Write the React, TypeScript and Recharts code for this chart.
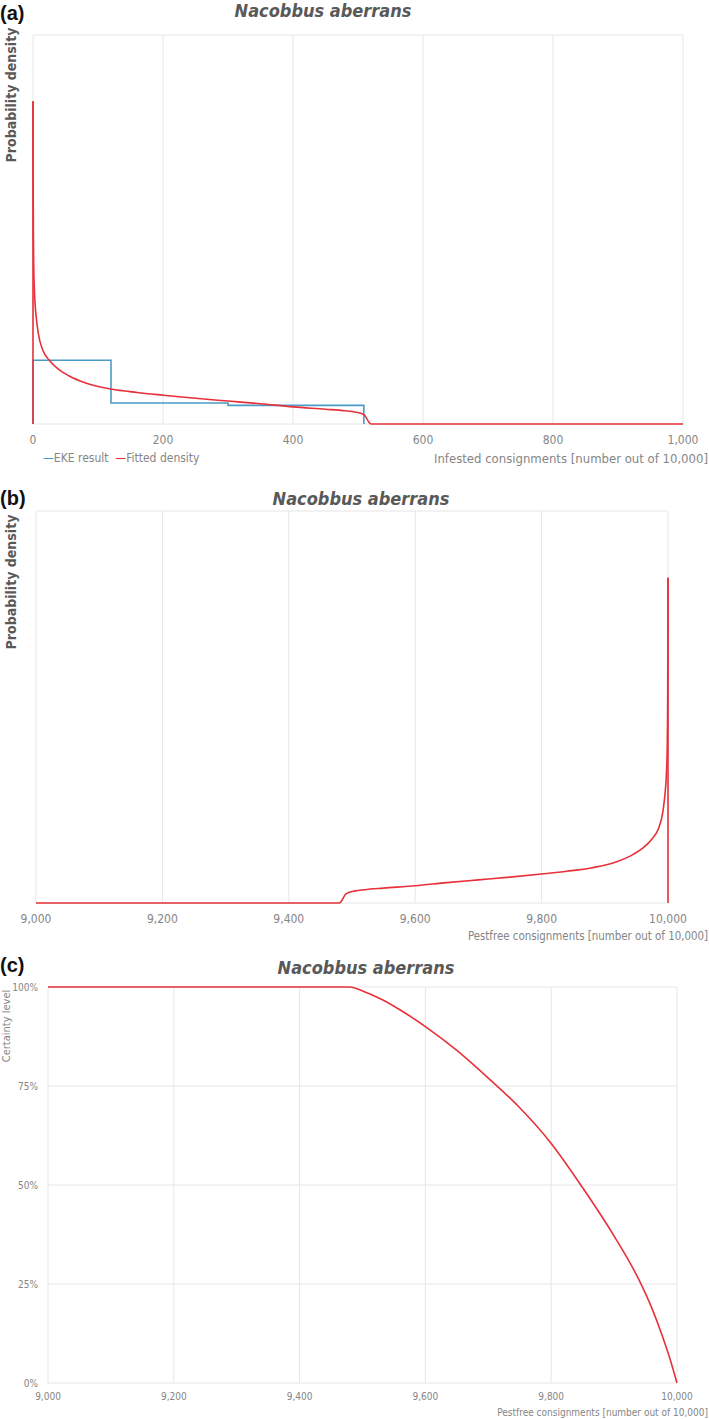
import { CartesianGrid, Line, LineChart, XAxis, YAxis } from "recharts";
import type { CSSProperties } from "react";

const infestedTicks = [0, 200, 400, 600, 800, 1000];
const pestfreeTicks = [9000, 9200, 9400, 9600, 9800, 10000];
const densityTicks = [0, 1, 2, 3, 4, 5];
const certaintyTicks = [0, 25, 50, 75, 100];

// EKE result histogram: bin edges (infested) and bar heights
const ekeEdges = [0, 120, 300, 509];
const ekeHeights = [0.82, 0.27, 0.24];

// fitted density; spike at 0 drawn separately
const fittedInfested = [0, 0.3, 0.7, 1.2, 2, 3, 5, 8, 15, 25, 40, 55, 80, 120, 160, 200, 250, 300, 350, 400, 450, 480, 495, 509, 520, 1000];
const fittedDensity = [4.15, 3.0, 2.35, 2.0, 1.75, 1.57, 1.37, 1.17, 0.95, 0.82, 0.7, 0.62, 0.53, 0.45, 0.405, 0.37, 0.33, 0.295, 0.26, 0.22, 0.19, 0.17, 0.155, 0.12, 0, 0];

// certainty curve, panel (c)
const certPestfree = [9000, 9480, 9500, 9530, 9560, 9600, 9650, 9700, 9750, 9800, 9850, 9900, 9940, 9960, 9976, 9990, 10000];
const certLevel = [100, 100, 99, 96.9, 94.2, 90, 84, 77, 69.5, 60.5, 49.3, 37.1, 25.9, 18.9, 12.2, 5.5, 0];

const BLUE = "#4a9cc8";
const RED = "#e8303a";
const GRID = "#e6e6e6";
const TICK = "#858585";
const DARK = "#595959";
const NARROW = "'Liberation Sans Narrow', 'DejaVu Sans Condensed', 'Open Sans', sans-serif";

const ekeData = [{ x: ekeEdges[0], y: 0 }];
ekeHeights.forEach((h, i) => {
  ekeData.push({ x: ekeEdges[i], y: h });
  ekeData.push({ x: ekeEdges[i + 1], y: h });
});
ekeData.push({ x: ekeEdges[ekeEdges.length - 1], y: 0 });

const fittedA = fittedInfested.map((x, i) => ({ x, y: fittedDensity[i] }));
const spikeA = [{ x: fittedInfested[0], y: 0 }, fittedA[0]];
const fittedB = fittedA.map((p) => ({ x: 10000 - p.x, y: p.y })).reverse();
const spikeB = spikeA.map((p) => ({ x: 10000 - p.x, y: p.y }));
const certData = certPestfree.map((x, i) => ({ x, y: certLevel[i] }));

const fmt = (v: number) => v.toLocaleString("en-US");

const abs = (style: CSSProperties): CSSProperties => ({ position: "absolute", whiteSpace: "nowrap", ...style });

const panelTag = (top: number): CSSProperties =>
  abs({ left: 0, top, fontFamily: "'Liberation Sans', Arial, sans-serif", fontWeight: 700, fontSize: 20, color: "#111", lineHeight: "20px" });

const titleStyle = (cx: number, cy: number): CSSProperties =>
  abs({ left: cx, top: cy, transform: "translate(-50%, -50%)", fontFamily: NARROW, fontWeight: 700, fontStyle: "italic", fontSize: 18, color: DARK });

const yTitle = (cx: number, cy: number, bold: boolean, size: number, color: string): CSSProperties =>
  abs({ left: cx, top: cy, transform: "translate(-50%, -50%) rotate(-90deg)", fontFamily: NARROW, fontWeight: bold ? 700 : 400, fontSize: size, color });

const xTitle = (cy: number, size: number): CSSProperties =>
  abs({ right: 1, top: cy, transform: "translateY(-50%)", fontFamily: NARROW, fontSize: size, color: TICK });

export default function App() {
  const tick = { fill: TICK, fontSize: 12, fontFamily: NARROW };
  return (
    <div style={{ position: "absolute", left: 0, top: 0, width: 709, height: 1419, background: "#fff", overflow: "hidden" }}>
      {/* (a) */}
      <div style={abs({ left: 0, top: 0 })}>
        <LineChart width={709} height={470} margin={{ top: 35, right: 26, left: 33, bottom: 22 }}>
          <CartesianGrid stroke={GRID} />
          <XAxis
            type="number"
            dataKey="x"
            domain={[0, 1000]}
            ticks={infestedTicks}
            tickFormatter={fmt}
            axisLine={false}
            tickLine={false}
            tickMargin={5}
            height={24}
            tick={tick}
            interval={0}
          />
          <YAxis type="number" domain={[0, 5]} ticks={densityTicks} width={0} tick={false} axisLine={false} tickLine={false} />
          <Line data={ekeData} dataKey="y" type="linear" stroke={BLUE} strokeWidth={1.6} dot={false} isAnimationActive={false} />
          <Line data={spikeA} dataKey="y" type="linear" stroke={RED} strokeWidth={1.6} dot={false} isAnimationActive={false} />
          <Line data={fittedA} dataKey="y" type="monotone" stroke={RED} strokeWidth={1.6} dot={false} isAnimationActive={false} />
        </LineChart>
      </div>
      <div style={panelTag(3)}>(a)</div>
      <div style={titleStyle(323, 10)}>Nacobbus aberrans</div>
      <div style={yTitle(11, 95, true, 14, DARK)}>Probability density</div>
      <div style={abs({ left: 43, top: 458, transform: "translateY(-50%)", fontFamily: NARROW, fontSize: 12, color: TICK })}>
        <span style={{ color: BLUE }}>—</span>EKE result&nbsp;&nbsp;<span style={{ color: RED }}>—</span>Fitted density
      </div>
      <div style={xTitle(458, 13)}>Infested consignments [number out of 10,000]</div>

      {/* (b) */}
      <div style={abs({ left: 0, top: 470 })}>
        <LineChart width={709} height={480} margin={{ top: 41, right: 41, left: 36, bottom: 23 }}>
          <CartesianGrid stroke={GRID} />
          <XAxis
            type="number"
            dataKey="x"
            domain={[9000, 10000]}
            ticks={pestfreeTicks}
            tickFormatter={fmt}
            axisLine={false}
            tickLine={false}
            tickMargin={5}
            height={24}
            tick={tick}
            interval={0}
          />
          <YAxis type="number" domain={[0, 5]} ticks={densityTicks} width={0} tick={false} axisLine={false} tickLine={false} />
          <Line data={fittedB} dataKey="y" type="monotone" stroke={RED} strokeWidth={1.6} dot={false} isAnimationActive={false} />
          <Line data={spikeB} dataKey="y" type="linear" stroke={RED} strokeWidth={1.6} dot={false} isAnimationActive={false} />
        </LineChart>
      </div>
      <div style={panelTag(488)}>(b)</div>
      <div style={titleStyle(361, 498)}>Nacobbus aberrans</div>
      <div style={yTitle(11, 582, true, 14, DARK)}>Probability density</div>
      <div style={xTitle(936, 11.4)}>Pestfree consignments [number out of 10,000]</div>

      {/* (c) */}
      <div style={abs({ left: 0, top: 950 })}>
        <LineChart width={709} height={469} margin={{ top: 37, right: 32, left: 8, bottom: 16 }}>
          <CartesianGrid stroke={GRID} />
          <XAxis
            type="number"
            dataKey="x"
            domain={[9000, 10000]}
            ticks={pestfreeTicks}
            tickFormatter={fmt}
            axisLine={false}
            tickLine={false}
            tickMargin={4}
            height={20}
            tick={{ ...tick, fontSize: 10 }}
            interval={0}
          />
          <YAxis
            type="number"
            domain={[0, 100]}
            ticks={certaintyTicks}
            tickFormatter={(v: number) => `${v}%`}
            width={40}
            axisLine={false}
            tickLine={false}
            tickMargin={4}
            tick={{ ...tick, fontSize: 10 }}
            interval={0}
          />
          <Line data={certData} dataKey="y" type="monotone" stroke={RED} strokeWidth={1.6} dot={false} isAnimationActive={false} />
        </LineChart>
      </div>
      <div style={panelTag(955)}>(c)</div>
      <div style={titleStyle(366, 967)}>Nacobbus aberrans</div>
      <div style={yTitle(6, 1026, false, 11, TICK)}>Certainty level</div>
      <div style={xTitle(1412, 10)}>Pestfree consignments [number out of 10,000]</div>
    </div>
  );
}
